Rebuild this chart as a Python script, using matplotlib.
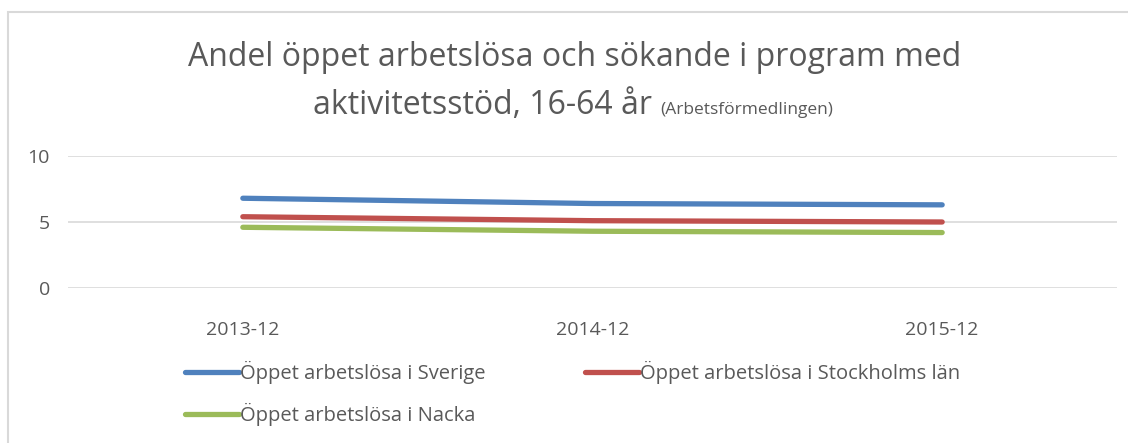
import matplotlib
matplotlib.use("Agg")
import matplotlib.pyplot as plt
from matplotlib.patches import Rectangle
from matplotlib import font_manager

categories = ["2013-12", "2014-12", "2015-12"]
sverige = [6.8, 6.4, 6.3]
stockholm = [5.4, 5.1, 5.0]
nacka = [4.6, 4.3, 4.2]
series_names = ["Öppet arbetslösa i Sverige", "Öppet arbetslösa i Stockholms län", "Öppet arbetslösa i Nacka"]
colors = ["#4F81BD", "#C0504D", "#9BBB59"]
yticks = [0, 5, 10]

avail = {f.name for f in font_manager.fontManager.ttflist}
fam = "Liberation Sans Narrow" if "Liberation Sans Narrow" in avail else "Open Sans"
plt.rcParams['font.family'] = [fam, 'DejaVu Sans']
TXT = "#595959"

W, H = 1128, 443
fig = plt.figure(figsize=(W/100, H/100), dpi=100)

def fx(px): return px / W
def fy(py): return 1 - py / H

# chart border
fig.patches.append(Rectangle((fx(8), fy(H+5)), fx(W+10), fy(12) - fy(H+5), transform=fig.transFigure,
                             fill=False, edgecolor="#D9D9D9", linewidth=1.5))

ax = fig.add_axes([fx(68), fy(288), fx(1117) - fx(68), fy(156) - fy(288)])
x = list(range(len(categories)))
lines = []
for vals, name, c in zip([sverige, stockholm, nacka], series_names, colors):
    ln, = ax.plot(x, vals, color=c, lw=3.8, solid_capstyle="round", label=name)
    lines.append(ln)
ax.set_xlim(-0.5, len(categories) - 0.5)
ax.set_ylim(0, 10)
ax.set_yticks(yticks)
ax.set_xticks(x)
ax.set_xticklabels(categories)
ax.grid(axis="y", color="#D9D9D9", lw=1.2)
ax.set_axisbelow(True)
for s in ax.spines.values():
    s.set_visible(False)
ax.tick_params(length=0, labelsize=14, colors=TXT)
ax.tick_params(axis="y", pad=13)
ax.tick_params(axis="x", pad=24)

# title
fig.text(fx(575), fy(57), "Andel öppet arbetslösa och sökande i program med", ha="center", va="center",
         fontsize=23, color=TXT)
r = fig.canvas.get_renderer()
t1 = fig.text(0, fy(114), "aktivitetsstöd, 16-64 år ", ha="left", va="baseline", fontsize=23, color=TXT)
t2 = fig.text(0, fy(114), "(Arbetsförmedlingen)", ha="left", va="baseline", fontsize=12.5, color=TXT)
w1 = t1.get_window_extent(r).width
w2 = t2.get_window_extent(r).width
x0 = 573 - (w1 + w2) / 2
t1.set_x(fx(x0))
t2.set_x(fx(x0 + w1))

order = [0, 2, 1]
leg = fig.legend([lines[i] for i in order], [series_names[i] for i in order],
                 loc="upper left", bbox_to_anchor=(fx(185), fy(361)), ncol=2, frameon=False,
                 fontsize=14.5, labelcolor=TXT, handlelength=2.7, handletextpad=0.05,
                 columnspacing=4.9, borderaxespad=0, borderpad=0, labelspacing=0.95)

fig.savefig("out.png", dpi=100)
